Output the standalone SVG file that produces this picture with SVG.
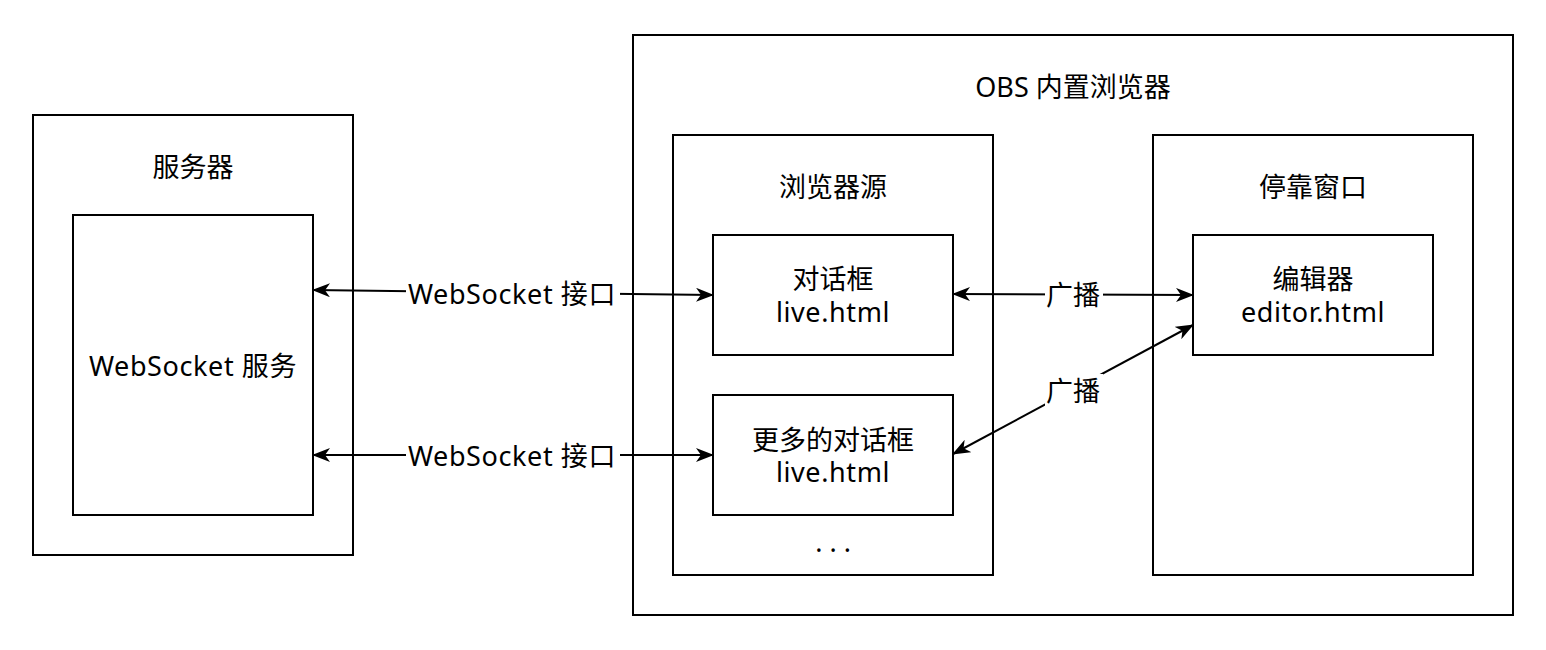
<svg xmlns="http://www.w3.org/2000/svg" width="1546" height="650" viewBox="0 0 1546 650">
<defs>
<style>
.box{fill:#fff;stroke:#000;stroke-width:2}
.t{font-family:"Noto Sans","Noto Sans CJK SC",sans-serif;font-size:27px;fill:#000;text-anchor:middle}
.w{letter-spacing:0.6px}
.c{fill:none;stroke:#000;stroke-width:2}
.lbl{fill:#fff}
</style>
<marker id="a" viewBox="0 0 18 14" refX="17" refY="7" markerWidth="18" markerHeight="14" markerUnits="userSpaceOnUse" orient="auto-start-reverse">
<path d="M0,0 L18,7 L0,14 L5,7 Z" fill="#000"/>
</marker>
</defs>
<rect width="1546" height="650" fill="#fff"/>
<g id="server">
<rect class="box" x="33" y="115" width="320" height="440"/>
<text class="t" x="193" y="177">服务器</text>
</g>
<g id="ws-service">
<rect class="box" x="73" y="215" width="240" height="300"/>
<text class="t w" x="193" y="376">WebSocket 服务</text>
</g>
<g id="obs">
<rect class="box" x="633" y="35" width="880" height="580"/>
<text class="t" x="1073" y="97">OBS 内置浏览器</text>
</g>
<g id="browser-source">
<rect class="box" x="673" y="135" width="320" height="440"/>
<text class="t" x="833" y="197">浏览器源</text>
<text class="t" x="833" y="552">. . .</text>
</g>
<g id="dock">
<rect class="box" x="1153" y="135" width="320" height="440"/>
<text class="t" x="1313" y="197">停靠窗口</text>
</g>
<g id="dialog">
<rect class="box" x="713" y="235" width="240" height="120"/>
<text class="t" x="833" y="289">对话框<tspan class="w" x="833" dy="33">live.html</tspan></text>
</g>
<g id="more-dialog">
<rect class="box" x="713" y="395" width="240" height="120"/>
<text class="t" x="833" y="450">更多的对话框<tspan class="w" x="833" dy="32">live.html</tspan></text>
</g>
<g id="editor">
<rect class="box" x="1193" y="235" width="240" height="120"/>
<text class="t" x="1313" y="289">编辑器<tspan class="w" x="1313" dy="33">editor.html</tspan></text>
</g>
<g id="connectors">
<path class="c" d="M313,290 L713,295" marker-start="url(#a)" marker-end="url(#a)"/>
<path class="c" d="M313,455 L713,455" marker-start="url(#a)" marker-end="url(#a)"/>
<path class="c" d="M953,294 L1193,295" marker-start="url(#a)" marker-end="url(#a)"/>
<path class="c" d="M953,454 L1193,325" marker-start="url(#a)" marker-end="url(#a)"/>
<rect class="lbl" x="406" y="278" width="214" height="32"/>
<text class="t w" x="512" y="304">WebSocket 接口</text>
<rect class="lbl" x="406" y="440" width="214" height="32"/>
<text class="t w" x="512" y="466">WebSocket 接口</text>
<rect class="lbl" x="1045" y="280" width="58" height="30"/>
<text class="t" x="1073" y="305">广播</text>
<rect class="lbl" x="1045" y="374" width="58" height="32"/>
<text class="t" x="1073" y="401">广播</text>
</g>
</svg>
